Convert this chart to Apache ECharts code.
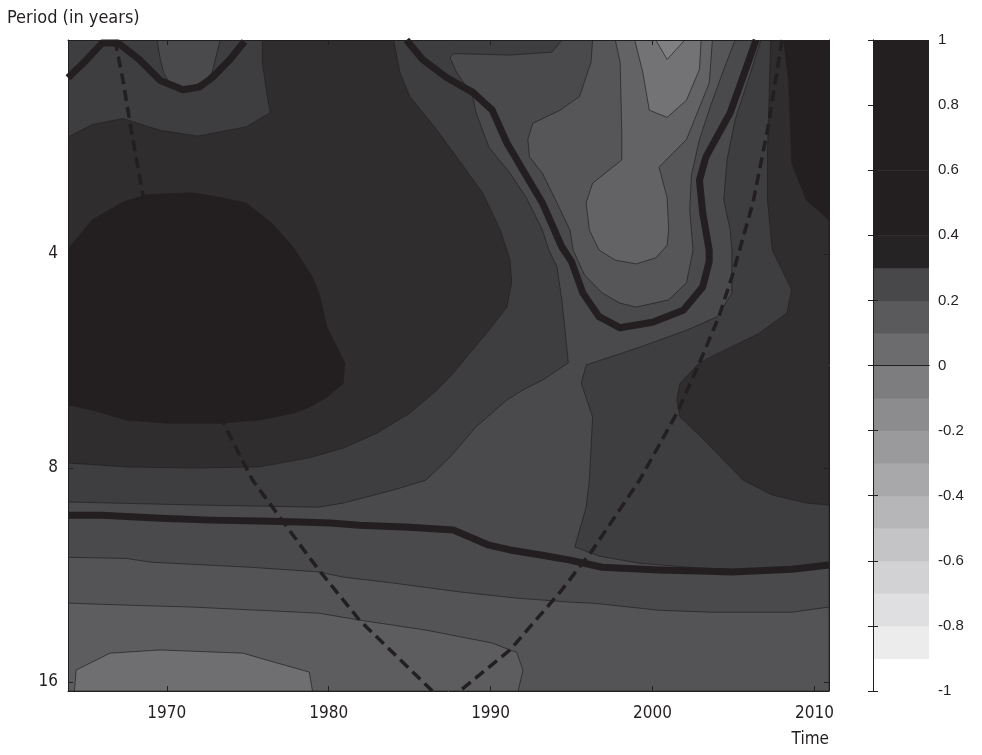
<!DOCTYPE html>
<html>
<head>
<meta charset="utf-8">
<script src="https://cdn.jsdelivr.net/npm/echarts@6/dist/echarts.min.js"></script>
<style>
  html, body { margin: 0; padding: 0; background: #ffffff; }
  #chart { width: 982px; height: 755px; }
</style>
</head>
<body>
<div id="chart"></div>
<script>
// Wavelet coherence map: time (years) against period (years, log2 scale).

const yearRange = [1963.9, 2010.9];
const periodRange = [2, 16.47];
const xTickYears = [1970, 1980, 1990, 2000, 2010];
const yTickPeriods = [4, 8, 16];

// Filled contour regions, as [year, period] outlines, back layer first.
const fieldBase = [[1963.9, 2], [2010.9, 2], [2010.9, 16.47], [1963.9, 16.47]];
const bandUpperLeft = [[1963.9,2.0],[1994.4,2.0],[1993.8,2.08],[1991.2,2.10],[1987.7,2.09],[1987.5,2.12],[1987.9,2.22],[1988.9,2.40],[1989.1,2.53],[1989.9,2.83],[1991.2,3.08],[1992.2,3.33],[1993.2,3.70],[1993.6,3.95],[1994.1,4.17],[1994.4,4.64],[1994.6,5.12],[1994.8,5.69],[1993.2,6.02],[1992.0,6.21],[1991.0,6.42],[1989.1,7.00],[1987.5,7.72],[1986.0,8.32],[1984.0,8.59],[1980.9,8.96],[1979.4,9.08],[1972.0,9.02],[1963.9,8.93]];
const pocketUpperLeft = [[1969.4,2.0],[1973.3,2.0],[1973.0,2.13],[1972.8,2.22],[1972.3,2.29],[1971.1,2.34],[1970.2,2.31],[1969.8,2.22],[1969.6,2.13]];
const ringLeft = [[1975.9,2.0],[1984.0,2.0],[1984.4,2.22],[1985.0,2.40],[1986.7,2.68],[1987.9,2.92],[1989.5,3.28],[1990.6,3.70],[1991.2,4.08],[1991.3,4.39],[1991.0,4.75],[1989.9,5.12],[1987.7,5.88],[1986.7,6.21],[1985.0,6.70],[1983.0,7.14],[1980.9,7.50],[1978.8,7.74],[1975.7,7.97],[1971.6,8.0],[1967.5,7.97],[1963.9,7.87],[1963.9,2.74],[1965.4,2.63],[1967.3,2.58],[1969.6,2.68],[1971.9,2.73],[1974.9,2.65],[1976.4,2.53],[1976.2,2.40],[1975.9,2.15]];
const peakLeft = [[1963.9,3.95],[1964.0,3.91],[1965.4,3.58],[1967.3,3.38],[1968.8,3.30],[1971.6,3.28],[1973.3,3.33],[1974.9,3.39],[1976.5,3.62],[1977.8,3.91],[1979.0,4.31],[1979.4,4.54],[1979.9,5.07],[1981.0,5.69],[1980.9,6.08],[1979.9,6.36],[1978.8,6.57],[1977.8,6.70],[1975.7,6.85],[1973.3,6.92],[1970.0,6.92],[1967.5,6.85],[1965.4,6.63],[1963.9,6.52]];
const bandRight = [[2006.7,2.0],[2005.9,2.28],[2005.1,2.59],[2004.6,2.95],[2004.4,3.36],[2004.8,3.70],[2004.9,3.95],[2004.9,4.54],[2004.0,4.90],[2002.1,5.12],[1999.2,5.41],[1995.9,5.73],[1995.6,6.08],[1996.3,6.78],[1996.1,8.32],[1995.9,9.08],[1995.2,10.33],[1996.7,10.64],[1999.2,10.89],[2002.9,11.06],[2006.6,11.13],[2010.9,10.99],[2010.9,2.0]];
const ringRight = [[2007.3,2.0],[2007.2,2.43],[2007.1,2.86],[2007.1,3.36],[2007.4,3.95],[2008.6,4.49],[2008.3,4.84],[2006.6,5.17],[2004.1,5.51],[2002.9,5.69],[2001.7,6.08],[2001.5,6.42],[2001.7,6.78],[2003.2,7.31],[2004.4,7.80],[2005.6,8.32],[2007.4,8.73],[2009.5,8.96],[2010.9,9.02],[2010.9,2.0]];
const peakRight = [[2008.1,2.0],[2008.4,2.28],[2008.6,2.98],[2009.5,3.36],[2010.9,3.58],[2010.9,2.0]];
const troughOuter = [[1996.3,2.0],[1996.2,2.15],[1995.5,2.40],[1994.3,2.51],[1992.6,2.62],[1992.3,2.76],[1992.4,2.92],[1993.2,3.08],[1994.1,3.39],[1994.9,3.70],[1995.1,3.95],[1995.8,4.28],[1996.9,4.54],[1998.0,4.69],[1999.0,4.75],[2001.0,4.64],[2002.1,4.39],[2002.5,3.95],[2002.3,3.47],[2002.4,3.10],[2002.9,2.76],[2003.6,2.47],[2004.4,2.20],[2005.1,2.0]];
const troughMid = [[1997.7,2.0],[1998.0,2.15],[1998.1,2.68],[1998.1,2.95],[1996.3,3.18],[1995.9,3.39],[1996.1,3.70],[1996.7,3.95],[1997.7,4.08],[1999.0,4.13],[2000.2,4.05],[2000.9,3.89],[2001.0,3.70],[2000.9,3.33],[2000.4,3.02],[2002.1,2.76],[2003.5,2.30],[2003.7,2.0]];
const troughInner = [[1998.9,2.0],[1999.4,2.22],[1999.8,2.51],[2000.9,2.57],[2002.1,2.43],[2002.9,2.20],[2003.0,2.0]];
const troughCore = [[2000.2,2.0],[2000.9,2.13],[2002.0,2.0]];
const bandLongPeriod = [[1963.9,10.68],[1967.5,10.72],[1969.0,10.85],[1975.1,11.03],[1979.4,11.20],[1980.9,11.39],[1984.0,11.61],[1988.1,11.95],[1991.6,12.19],[1994.9,12.35],[1996.3,12.39],[2000.4,12.68],[2003.7,12.76],[2008.6,12.76],[2010.9,12.55],[2010.9,16.47],[1963.9,16.47]];
const bandLongPeriodInner = [[1963.9,12.39],[1967.5,12.47],[1971.6,12.55],[1979.4,12.80],[1981.9,13.09],[1986.0,13.52],[1990.1,14.10],[1991.2,14.42],[1991.6,14.52],[1992.0,15.39],[1991.7,16.47],[1963.9,16.47]];
const troughLongPeriod = [[1964.3,16.47],[1964.4,15.39],[1966.5,14.57],[1969.6,14.42],[1974.7,14.57],[1976.8,15.04],[1978.8,15.49],[1979.0,16.47]];

const contourRegions = [fieldBase, bandUpperLeft, pocketUpperLeft, ringLeft, peakLeft, bandRight, ringRight, peakRight, troughOuter, troughMid, troughInner, troughCore, bandLongPeriod, bandLongPeriodInner, troughLongPeriod];
const contourTones = ['#4a494b', '#3e3d3f', '#4a494b', '#2f2d2e', '#231f20', '#3e3d3f', '#2f2d2e', '#231f20', '#565658', '#636365', '#737376', '#808083', '#545456', '#5d5d5f', '#6f6f72'];

// Significance contours (thick) and cone of influence (dashed).
const sigUpperLeft = [[1963.9,2.26],[1964.9,2.15],[1966.0,2.02],[1966.5,2.02],[1967.0,2.02],[1968.3,2.13],[1969.6,2.28],[1971.0,2.35],[1972.0,2.33],[1972.8,2.26],[1973.9,2.13],[1974.8,2.01]];
const sigTrough = [[1984.8,2.0],[1985.8,2.13],[1987.3,2.26],[1988.9,2.37],[1990.1,2.51],[1991.0,2.79],[1992.0,3.05],[1993.2,3.39],[1994.4,3.91],[1995.0,4.10],[1995.7,4.54],[1996.7,4.90],[1998.0,5.08],[2000.0,4.99],[2001.9,4.80],[2003.1,4.45],[2003.5,4.10],[2003.5,3.95],[2003.1,3.50],[2002.9,3.15],[2003.3,2.92],[2004.8,2.53],[2006.4,2.0]];
const sigLongPeriod = [[1963.9,9.32],[1966.0,9.32],[1969.6,9.41],[1972.7,9.47],[1975.7,9.50],[1978.2,9.53],[1980.1,9.56],[1981.9,9.63],[1985.0,9.69],[1987.7,9.78],[1989.9,10.27],[1991.2,10.43],[1993.2,10.61],[1994.9,10.78],[1996.9,11.03],[2000.4,11.13],[2002.9,11.17],[2004.9,11.20],[2008.6,11.10],[2010.9,10.95]];
const coiLeft = [[1966.8,2.0],[1967.3,2.28],[1967.7,2.59],[1968.1,2.92],[1968.5,3.28],[1969.5,4.0],[1970.9,5.0],[1972.2,6.0],[1973.5,6.92],[1975.3,8.32],[1976.8,9.26],[1978.8,10.68],[1979.4,11.13],[1981.9,13.09],[1986.4,16.47]];
const coiRight = [[2008.0,2.0],[2007.1,2.68],[2006.2,3.39],[2005.2,4.08],[2004.9,4.31],[2004.1,4.90],[2002.9,5.69],[2001.5,6.70],[1999.2,8.32],[1996.3,10.43],[1994.3,11.95],[1991.2,14.42],[1988.1,16.47]];

// Colour bar
const cbarBandFloor = [-1.0,-0.9,-0.8,-0.7,-0.6,-0.5,-0.4,-0.3,-0.2,-0.1,0.0,0.1,0.2,0.3,0.4,0.5,0.6,0.7,0.8,0.9];
const cbarBandTone = ['#ffffff','#ececed','#dfdfe1','#d2d2d4','#c4c4c6','#b6b6b8','#a8a8aa','#9a9a9c','#8c8c8e','#7d7d7f','#6c6c6e','#5a5a5c','#48484a','#262324','#231f20','#231f20','#231f20','#231f20','#231f20','#231f20'];

const INK = '#231f20';
const NARROW = "'Liberation Sans Narrow', 'DejaVu Sans Condensed', sans-serif";
const REGULAR = "'Liberation Sans', Arial, sans-serif";

const chart = echarts.init(document.getElementById('chart'), null, { renderer: 'canvas' });

function lineSeries(name, pts, width, dashed) {
  return {
    name, type: 'line', xAxisIndex: 0, yAxisIndex: 0, data: pts,
    showSymbol: false, symbol: 'none', clip: true, z: 5, silent: true,
    lineStyle: { color: INK, width: width, type: dashed ? [11, 6] : 'solid', cap: 'butt', join: 'round' }
  };
}

const mainAxisCommon = {
  axisLine: { show: true, lineStyle: { color: INK, width: 1 } },
  splitLine: { show: false },
  z: 10
};

chart.setOption({
  animation: false,
  backgroundColor: '#ffffff',
  grid: [
    { left: 68, top: 40, width: 761, height: 651 },
    { left: 873, top: 40, width: 56, height: 651 }
  ],
  xAxis: [
    Object.assign({
      gridIndex: 0, type: 'value', position: 'bottom', min: yearRange[0], max: yearRange[1],
      axisTick: { show: true, inside: true, length: 5, customValues: xTickYears, lineStyle: { color: INK } },
      axisLabel: { customValues: xTickYears, margin: 14, color: INK, fontFamily: NARROW, fontSize: 17,
        formatter: v => String(Math.round(v)) }
    }, mainAxisCommon),
    Object.assign({
      gridIndex: 0, type: 'value', position: 'top', min: yearRange[0], max: yearRange[1],
      axisTick: { show: true, inside: true, length: 5, customValues: xTickYears, lineStyle: { color: INK } },
      axisLabel: { show: false }
    }, mainAxisCommon),
    { gridIndex: 1, type: 'value', position: 'bottom', min: 0, max: 1,
      axisLine: { show: true, lineStyle: { color: INK } }, axisTick: { show: false }, axisLabel: { show: false }, splitLine: { show: false }, z: 10 },
    { gridIndex: 1, type: 'value', position: 'top', min: 0, max: 1,
      axisLine: { show: true, lineStyle: { color: INK } }, axisTick: { show: false }, axisLabel: { show: false }, splitLine: { show: false }, z: 10 }
  ],
  yAxis: [
    Object.assign({
      gridIndex: 0, type: 'log', logBase: 2, position: 'left', inverse: true, min: periodRange[0], max: periodRange[1],
      axisTick: { show: true, inside: true, length: 5, customValues: yTickPeriods, lineStyle: { color: INK } },
      axisLabel: { customValues: yTickPeriods, margin: 10, color: INK, fontFamily: NARROW, fontSize: 17,
        formatter: v => String(Math.round(v)) }
    }, mainAxisCommon),
    Object.assign({
      gridIndex: 0, type: 'log', logBase: 2, position: 'right', inverse: true, min: periodRange[0], max: periodRange[1],
      axisTick: { show: true, inside: true, length: 5, customValues: yTickPeriods, lineStyle: { color: INK } },
      axisLabel: { show: false }
    }, mainAxisCommon),
    { gridIndex: 1, type: 'value', position: 'left', min: -1, max: 1, interval: 0.2,
      axisLine: { show: true, lineStyle: { color: INK } },
      axisTick: { show: true, inside: true, length: 5, lineStyle: { color: INK } },
      axisLabel: { show: false }, splitLine: { show: false }, z: 10 },
    { gridIndex: 1, type: 'value', position: 'right', min: -1, max: 1, interval: 0.2,
      axisLine: { show: true, lineStyle: { color: INK } },
      axisTick: { show: true, inside: true, length: 5, lineStyle: { color: INK } },
      axisLabel: { show: true, margin: 9, color: INK, fontFamily: REGULAR, fontSize: 15,
        formatter: v => String(Math.round(v * 10) / 10) },
      splitLine: { show: false }, z: 10 }
  ],
  series: [
    {
      name: 'coherence', type: 'custom', xAxisIndex: 0, yAxisIndex: 0, clip: true, z: 2, silent: true,
      data: contourRegions.map((r, i) => [yearRange[0], periodRange[0], i]),
      encode: { x: 0, y: 1 },
      renderItem: function (params, api) {
        const idx = api.value(2);
        const pts = contourRegions[idx].map(p => api.coord(p));
        return {
          type: 'polygon',
          shape: { points: pts },
          style: { fill: contourTones[idx], stroke: INK, lineWidth: 0.7 }
        };
      }
    },
    lineSeries('sigUpperLeft', sigUpperLeft, 7, false),
    lineSeries('sigTrough', sigTrough, 7, false),
    lineSeries('sigLongPeriod', sigLongPeriod, 7, false),
    lineSeries('coiLeft', coiLeft, 3.5, true),
    lineSeries('coiRight', coiRight, 3.5, true),
    {
      name: 'colorbar', type: 'custom', xAxisIndex: 2, yAxisIndex: 2, clip: true, z: 2, silent: true,
      data: cbarBandFloor.map((lo, i) => [0, lo, i]),
      encode: { x: 0, y: 1 },
      renderItem: function (params, api) {
        const i = api.value(2);
        const lo = cbarBandFloor[i];
        const hi = i + 1 < cbarBandFloor.length ? cbarBandFloor[i + 1] : 1;
        const a = api.coord([0, hi]);
        const b = api.coord([1, lo]);
        return {
          type: 'rect',
          shape: { x: a[0], y: a[1], width: b[0] - a[0], height: b[1] - a[1] + 0.5 },
          style: { fill: cbarBandTone[i] }
        };
      }
    }
  ],
  graphic: [
    { type: 'text', left: 7, top: 9, style: { text: 'Period (in years)', fill: INK, font: "18px " + NARROW } },
    { type: 'text', right: 153, top: 731, style: { text: 'Time', fill: INK, font: "17px " + NARROW } }
  ]
});
</script>
</body>
</html>
